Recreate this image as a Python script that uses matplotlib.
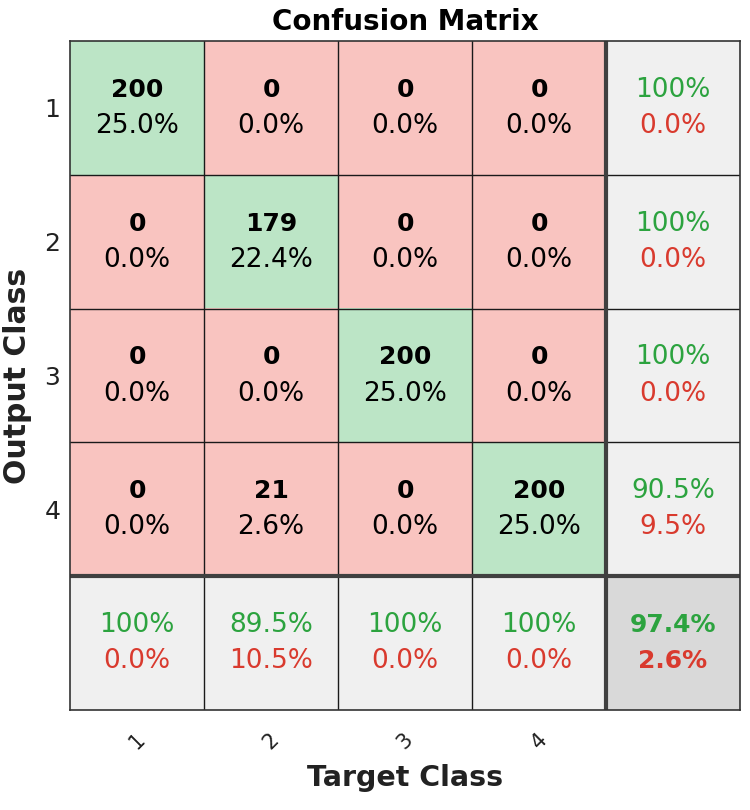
import numpy as np
import matplotlib
matplotlib.use("Agg")
import matplotlib.pyplot as plt

plt.rcParams['font.family'] = ['DejaVu Sans']

classes = ['1', '2', '3', '4']
# rows = output class, cols = target class
counts = [[200, 0, 0, 0],
          [0, 179, 0, 0],
          [0, 0, 200, 0],
          [0, 21, 0, 200]]
cell_pct = [[25.0, 0.0, 0.0, 0.0],
            [0.0, 22.4, 0.0, 0.0],
            [0.0, 0.0, 25.0, 0.0],
            [0.0, 2.6, 0.0, 25.0]]
row_correct = [100, 100, 100, 90.5]
row_wrong = [0.0, 0.0, 0.0, 9.5]
col_correct = [100, 89.5, 100, 100]
col_wrong = [0.0, 10.5, 0.0, 0.0]
overall_correct = 97.4
overall_wrong = 2.6

GREEN = np.array([188, 229, 198]) / 255
RED = np.array([249, 196, 192]) / 255
LGRAY = np.array([240, 240, 240]) / 255
DGRAY = np.array([217, 217, 217]) / 255
TGREEN = '#2ca33f'
TRED = '#d93a2e'

n = len(classes)
img = np.zeros((n + 1, n + 1, 3))
for i in range(n):
    for j in range(n):
        img[i, j] = GREEN if i == j else RED
    img[i, n] = LGRAY
    img[n, i] = LGRAY
img[n, n] = DGRAY

fig = plt.figure(figsize=(7.5, 8.1), dpi=100)
ax = fig.add_axes([70 / 750, 1 - 710 / 810, 670 / 750, 669 / 810])
ax.imshow(img, extent=(-0.5, n + 0.5, n + 0.5, -0.5), aspect='auto', interpolation='nearest')
ax.set_xlim(-0.5, n + 0.5)
ax.set_ylim(n + 0.5, -0.5)

def fmt(v):
    return '100%' if v == 100 else f'{v:.1f}%'

fs = 19
fsb = 18
dy = 0.135
for i in range(n):
    for j in range(n):
        ax.text(j, i - dy, str(counts[i][j]), ha='center', va='center', fontsize=fsb, fontweight='bold', color='black')
        ax.text(j, i + dy, fmt(cell_pct[i][j]), ha='center', va='center', fontsize=fs, color='black')
    ax.text(n, i - dy, fmt(row_correct[i]), ha='center', va='center', fontsize=fs, color=TGREEN)
    ax.text(n, i + dy, fmt(row_wrong[i]), ha='center', va='center', fontsize=fs, color=TRED)
    ax.text(i, n - dy, fmt(col_correct[i]), ha='center', va='center', fontsize=fs, color=TGREEN)
    ax.text(i, n + dy, fmt(col_wrong[i]), ha='center', va='center', fontsize=fs, color=TRED)
ax.text(n, n - dy, fmt(overall_correct), ha='center', va='center', fontsize=fsb, fontweight='bold', color=TGREEN)
ax.text(n, n + dy, fmt(overall_wrong), ha='center', va='center', fontsize=fsb, fontweight='bold', color=TRED)

for k in range(1, n):
    ax.axhline(k - 0.5, color='#1a1a1a', lw=1.0)
    ax.axvline(k - 0.5, color='#1a1a1a', lw=1.0)
ax.axhline(n - 0.5, color='#404040', lw=3.0)
ax.axvline(n - 0.5, color='#404040', lw=3.0)

for s in ax.spines.values():
    s.set_color('#333333')
    s.set_linewidth(1.2)

ax.set_xticks(range(n))
ax.set_xticklabels(classes, rotation=45, fontsize=15, color='#222222')
ax.set_yticks(range(n))
ax.set_yticklabels(classes, fontsize=18, color='#222222')
ax.tick_params(length=0)
ax.tick_params(axis='y', pad=7)
ax.tick_params(axis='x', pad=14)

ax.set_title('Confusion Matrix', fontsize=20, fontweight='bold', pad=8)
ax.set_xlabel('Target Class', fontsize=20.5, fontweight='bold', labelpad=8, color='#222222')
ax.set_ylabel('Output Class', fontsize=21.5, fontweight='bold', labelpad=9, color='#222222')

fig.savefig('out.png', dpi=100)
